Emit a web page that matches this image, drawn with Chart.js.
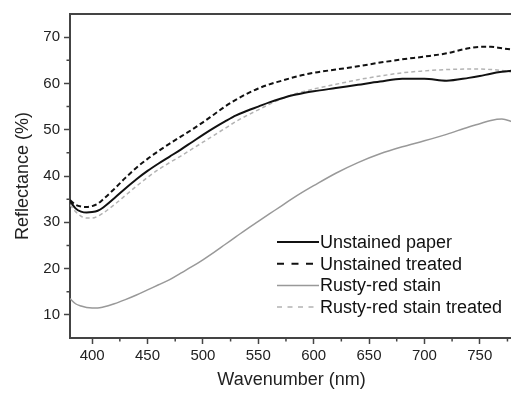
<!DOCTYPE html>
<html>
<head>
<meta charset="utf-8">
<script src="https://cdn.jsdelivr.net/npm/chart.js@4.4.1/dist/chart.umd.min.js"></script>
<style>
  html, body { margin: 0; padding: 0; background: #fff; overflow: hidden; }
  #wrap { width: 511px; height: 393px; overflow: hidden; }
</style>
</head>
<body>
<div id="wrap"><canvas id="chart" width="513" height="393"></canvas></div>
<script>
// data
const wavelengths = [380, 385, 390, 395, 400, 405, 410, 420, 430, 440, 450, 460, 470, 480, 490,
  500, 510, 520, 530, 540, 550, 560, 570, 580, 590, 600, 620, 640, 660, 680, 700, 720, 740, 750, 760, 770, 780];

const unstainedPaper = [34.6, 33.0, 32.3, 32.1, 32.2, 32.5, 33.2, 35.2, 37.3, 39.3, 41.1, 42.7, 44.2, 45.7, 47.3,
  48.9, 50.4, 51.8, 53.1, 54.1, 55.0, 55.9, 56.7, 57.4, 57.9, 58.3, 59.0, 59.7, 60.4, 61.0, 61.0, 60.6, 61.2, 61.6, 62.1, 62.5, 62.8];

const unstainedTreated = [34.8, 33.8, 33.4, 33.3, 33.5, 34.0, 35.0, 37.2, 39.6, 41.8, 43.7, 45.4, 47.0, 48.5, 50.0,
  51.6, 53.3, 55.0, 56.5, 57.8, 58.9, 59.8, 60.5, 61.2, 61.8, 62.3, 63.0, 63.7, 64.5, 65.2, 65.8, 66.5, 67.6, 67.9, 67.9, 67.6, 67.3];

const rustyStain = [13.5, 12.4, 11.9, 11.6, 11.5, 11.5, 11.7, 12.4, 13.3, 14.3, 15.4, 16.5, 17.6, 19.0, 20.4,
  21.9, 23.5, 25.2, 26.9, 28.6, 30.2, 31.8, 33.4, 35.0, 36.5, 37.9, 40.6, 42.9, 44.8, 46.3, 47.6, 49.0, 50.6, 51.3, 52.0, 52.3, 51.7];

const rustyTreated = [33.8, 32.3, 31.3, 30.9, 30.9, 31.3, 32.0, 33.8, 35.8, 37.8, 39.7, 41.4, 42.9, 44.3, 45.8,
  47.3, 48.8, 50.3, 51.8, 53.1, 54.3, 55.5, 56.6, 57.5, 58.2, 58.8, 59.8, 60.8, 61.6, 62.3, 62.7, 63.0, 63.1, 63.1, 63.0, 62.8, 62.4];

const xTicks = [400, 450, 500, 550, 600, 650, 700, 750];
const xMinor = [425, 475, 525, 575, 625, 675, 725, 775];
const yTicks = [10, 20, 30, 40, 50, 60, 70];
const yMinor = [15, 25, 35, 45, 55, 65];

const axisColor = '#444';
const font = '"Liberation Sans", Arial, sans-serif';
Chart.defaults.font.family = font;

const pts = arr => wavelengths.map((w, i) => ({ x: w, y: arr[i] }));

const series = [
  { label: 'Unstained paper', data: pts(unstainedPaper), borderColor: '#111', borderWidth: 2, borderDash: [], legendDash: [] },
  { label: 'Unstained treated', data: pts(unstainedTreated), borderColor: '#111', borderWidth: 2, borderDash: [5, 3], legendDash: [7, 7.5] },
  { label: 'Rusty-red stain', data: pts(rustyStain), borderColor: '#999', borderWidth: 1.5, borderDash: [], legendDash: [] },
  { label: 'Rusty-red stain treated', data: pts(rustyTreated), borderColor: '#b3b3b3', borderWidth: 1.5, borderDash: [4, 3], legendDash: [5, 5.5] }
];

// minor ticks + top/right frame
const frame = {
  id: 'frame',
  afterDraw(chart) {
    const { ctx, chartArea: a, scales: { x, y } } = chart;
    ctx.save();
    ctx.strokeStyle = axisColor;
    ctx.lineWidth = 1.5;
    ctx.beginPath();
    xMinor.forEach(v => {
      const px = x.getPixelForValue(v);
      ctx.moveTo(px, a.bottom); ctx.lineTo(px, a.bottom + 3.5);
    });
    yMinor.forEach(v => {
      const py = y.getPixelForValue(v);
      ctx.moveTo(a.left, py); ctx.lineTo(a.left - 3.5, py);
    });
    ctx.stroke();
    ctx.lineWidth = 2;
    ctx.beginPath();
    ctx.moveTo(a.left, a.top); ctx.lineTo(a.right, a.top); ctx.lineTo(a.right, a.bottom);
    ctx.stroke();
    ctx.restore();
  }
};

// legend drawn inside the plot, lower right
const innerLegend = {
  id: 'innerLegend',
  afterDraw(chart) {
    const ctx = chart.ctx;
    const x0 = 277, y0 = 242, lineW = 42, row = 21.7;
    ctx.save();
    ctx.font = '18px ' + font;
    ctx.textBaseline = 'middle';
    ctx.fillStyle = '#111';
    chart.data.datasets.forEach((ds, i) => {
      const yy = y0 + i * row;
      ctx.strokeStyle = ds.borderColor;
      ctx.lineWidth = ds.borderWidth;
      ctx.setLineDash(ds.legendDash);
      ctx.beginPath();
      ctx.moveTo(x0, yy); ctx.lineTo(x0 + lineW, yy);
      ctx.stroke();
      ctx.fillText(ds.label, x0 + lineW + 1, yy + 1);
    });
    ctx.restore();
  }
};

new Chart(document.getElementById('chart'), {
  type: 'line',
  data: { datasets: series },
  options: {
    responsive: false,
    animation: false,
    layout: { padding: { top: 14, right: 0, left: 0, bottom: 0 } },
    elements: {
      point: { radius: 0 },
      line: { tension: 0.3, cubicInterpolationMode: 'monotone' }
    },
    plugins: { legend: { display: false }, tooltip: { enabled: false } },
    scales: {
      x: {
        type: 'linear',
        min: 380, max: 780,
        afterBuildTicks: s => { s.ticks = xTicks.map(v => ({ value: v })); },
        afterFit: s => { s.height = 55; },
        grid: { drawOnChartArea: false, tickLength: 6, tickColor: axisColor, tickWidth: 1.5 },
        border: { color: axisColor, width: 2 },
        ticks: { color: '#222', font: { size: 15 }, padding: 3, maxRotation: 0 },
        title: { display: true, text: 'Wavenumber (nm)', color: '#222', font: { size: 18 }, padding: { bottom: 2, top: 0 } }
      },
      y: {
        min: 5, max: 75,
        afterBuildTicks: s => { s.ticks = yTicks.map(v => ({ value: v })); },
        afterFit: s => { s.width = 70; },
        grid: { drawOnChartArea: false, tickLength: 6, tickColor: axisColor, tickWidth: 1.5 },
        border: { color: axisColor, width: 2 },
        ticks: { color: '#222', font: { size: 15 }, padding: 4 },
        title: { display: true, text: 'Reflectance (%)', color: '#222', font: { size: 18 }, padding: { top: 12, bottom: 0 } }
      }
    }
  },
  plugins: [frame, innerLegend]
});
</script>
</body>
</html>
